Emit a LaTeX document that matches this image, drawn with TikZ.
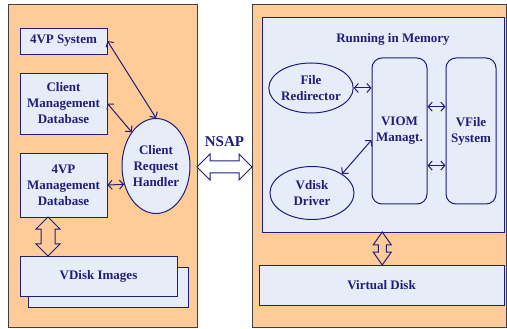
\documentclass[tikz,border=0pt]{standalone}
\usepackage{fontspec}
\setmainfont{Liberation Serif}
\usepackage{xcolor}
\usepackage{tikz}
\usetikzlibrary {positioning}
\usetikzlibrary{arrows.meta}
\usetikzlibrary{calc,shapes.geometric,shapes.arrows}
\definecolor{navy}{RGB}{31,31,122}
\definecolor{peach}{RGB}{255,204,153}
\definecolor{pale}{RGB}{230,236,248}
\tikzset{link/.style = {<->,> = {Straight Barb[length=4pt,width=9pt]}, navy, line width=1pt}}

\begin{document}
\begin{tikzpicture}[x=1pt,y=-1pt,font=\fontsize{13}{16}\selectfont\bfseries,
    panel/.style={rectangle,draw=black!75,fill=peach,line width=1pt,inner sep=0pt},
    box node/.style={rectangle,draw=navy,fill=pale,text=navy,align=center,line width=0.9pt,inner sep=0pt},
    oval node/.style={ellipse,draw=navy,fill=pale,text=navy,align=center,line width=1pt,inner sep=0pt},
    tall node/.style={rectangle,rounded corners=10pt,draw=navy,fill=pale,text=navy,align=center,line width=1pt,inner sep=0pt},
    fat arrow/.style={double arrow,draw=navy,line width=1pt,inner xsep=0pt,minimum width=0pt}]
                \useasboundingbox (0,0) rectangle (507,329);

                % the two hosts
                \node[panel,minimum width=189pt,minimum height=322pt] (left) at (102.5,166) {};
                \node[panel,minimum width=254pt,minimum height=322pt] (right) at (379,166) {};

                % left side
                \node[box node,minimum width=87pt,minimum height=26pt] (sys) at (63.5,41) {4VP System};
                \node[box node,minimum width=87pt,minimum height=61pt] (cmdb) at (63.5,103.5) {Client\\Management\\Database};
                \node[box node,minimum width=87pt,minimum height=64pt] (vmdb) at (63.5,185) {4VP\\Management\\Database};
                \node[oval node,minimum width=68pt,minimum height=95pt] (crh) at (156,166) {Client\\Request\\Handler};
                \node[box node,minimum width=160pt,minimum height=40pt] (back) at (108,287) {};
                \node[box node,minimum width=157pt,minimum height=40pt] (images) at (98.5,276) {VDisk Images};

                \path[link] (sys.east) edge (crh.north);
                \path[link] (cmdb.east) edge (crh.north west);
                \path[link] (vmdb.east) edge (crh.210);
                \node[fat arrow,rotate=90,minimum height=39pt,inner ysep=6.5pt,double arrow head extend=5pt] (la) at ($(vmdb.south)!0.5!(images.north)+(-33,0)$) {};

                % link between the hosts
                \node[fat arrow,minimum height=55pt,inner ysep=5.5pt,double arrow head extend=7pt] (na) at ($(left.east)!0.5!(right.west)+(0,1)$) {};
                \node[text=navy,font=\fontsize{15}{18}\selectfont\bfseries] (nsap) [above=10pt of na] {NSAP};

                % right side
                \node[box node,minimum width=242pt,minimum height=215pt] (mem) at (383,124.5) {};
                \node[text=navy] (title) at (393,39) {Running in Memory};
                \node[oval node,minimum width=84pt,minimum height=50pt] (fr) at (311,88) {File\\Redirector};
                \node[oval node,minimum width=84pt,minimum height=53pt] (vd) at (312,193) {Vdisk\\Driver};
                \node[tall node,minimum width=55pt,minimum height=146pt] (viom) at (399.5,131) {VIOM\\Managt.};
                \node[tall node,minimum width=50pt,minimum height=146pt] (vfs) at (471,131) {VFile\\System};
                \node[box node,minimum width=245pt,minimum height=40pt] (vdisk) at (381.5,285) {Virtual Disk};

                \path[link] (fr.east) edge (fr.east -| viom.west);
                \path[link] (vd.north east) edge (viom.198);
                \path[link] (viom.41) edge (viom.41 -| vfs.west);
                \path[link] (viom.-51) edge (viom.-51 -| vfs.west);
                \node[fat arrow,rotate=90,minimum height=33pt,inner ysep=3.5pt,double arrow head extend=5pt,double arrow tip angle=70] (ra) at ($(mem.south)!0.5!(vdisk.north)$) {};
            \end{tikzpicture}
\end{document}
